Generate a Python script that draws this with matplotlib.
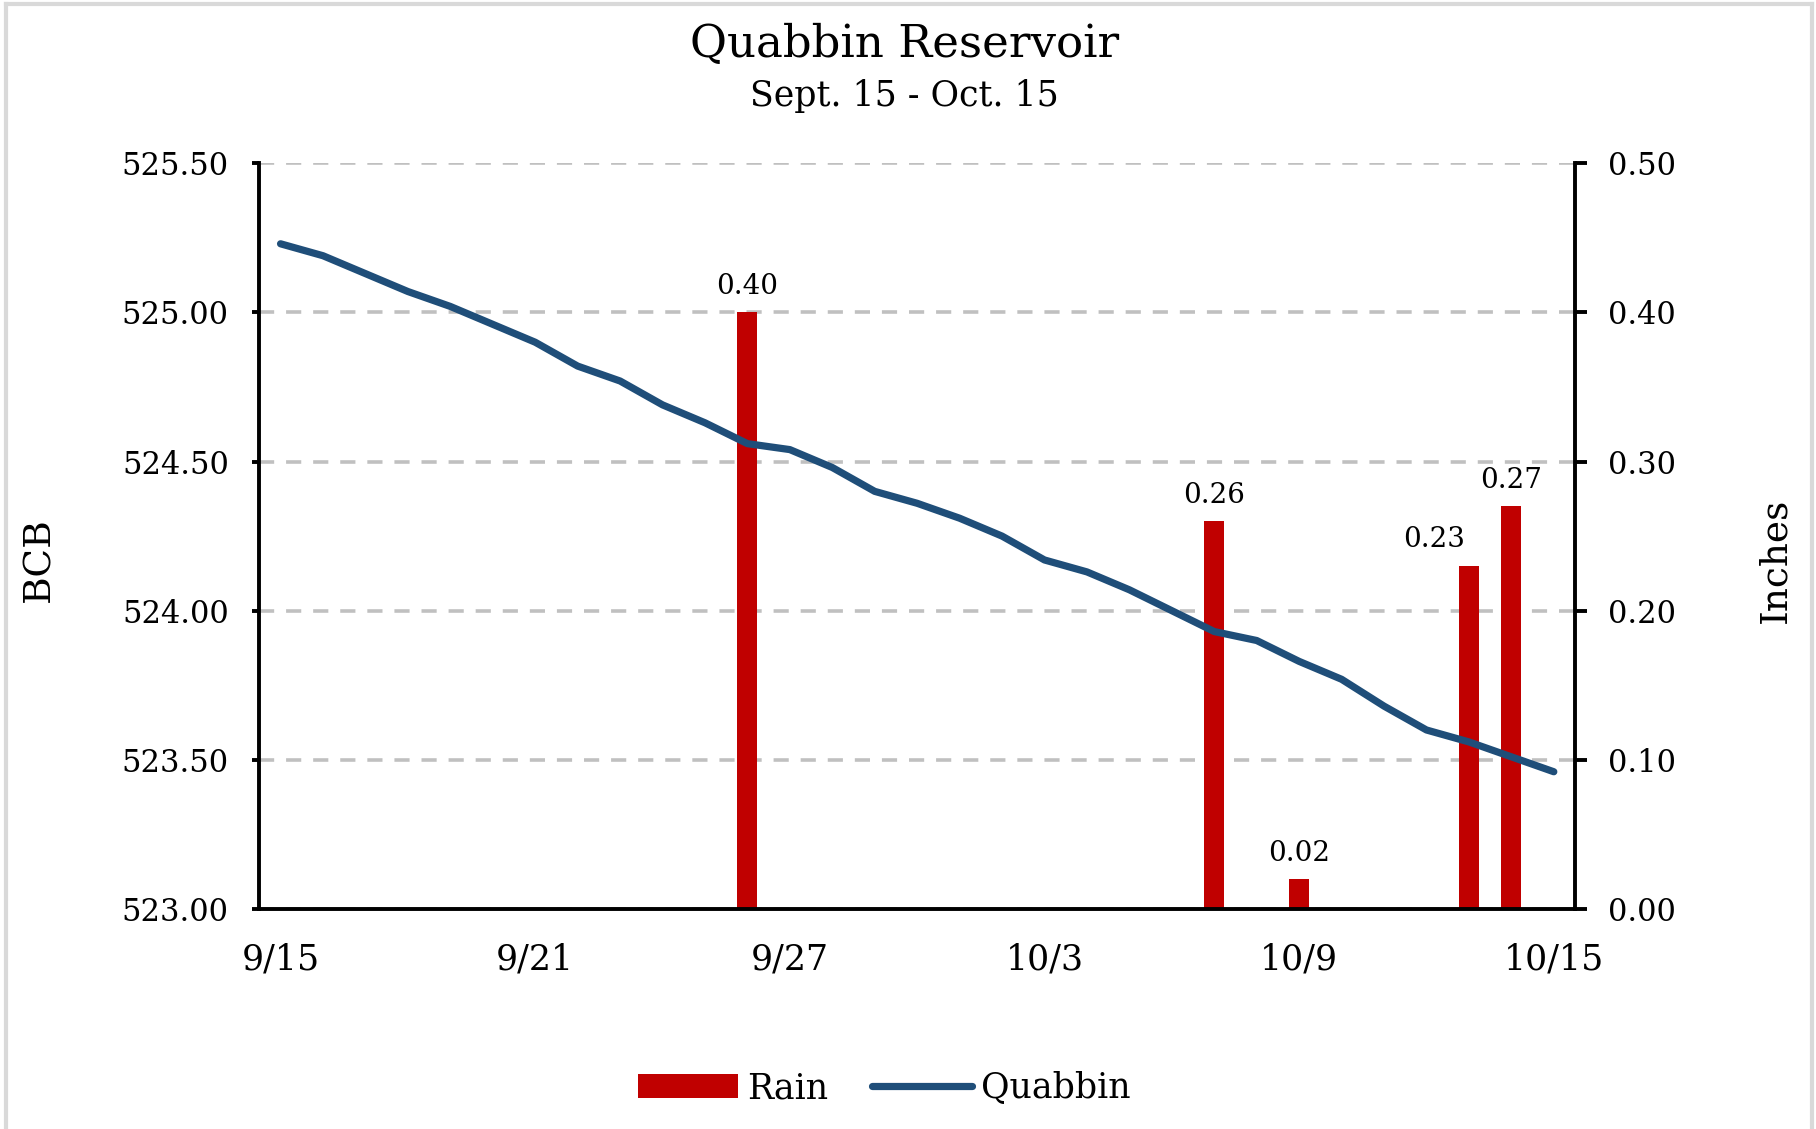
import matplotlib.pyplot as plt
from matplotlib.lines import Line2D

plt.rcParams['font.family'] = ['DejaVu Serif']

# Data: one value per day, 9/15 .. 10/15
days = list(range(31))
tick_days = [0, 6, 12, 18, 24, 30]
tick_labels = ['9/15', '9/21', '9/27', '10/3', '10/9', '10/15']

# reservoir level (BCB)
level = [525.23, 525.19, 525.13, 525.07, 525.02, 524.96, 524.90, 524.82,
         524.77, 524.69, 524.63, 524.56, 524.54, 524.48, 524.40, 524.36,
         524.31, 524.25, 524.17, 524.13, 524.07, 524.00, 523.93, 523.90,
         523.83, 523.77, 523.68, 523.60, 523.56, 523.51, 523.46]

# daily rain (inches)
rain = [0, 0, 0, 0, 0, 0, 0, 0, 0, 0, 0, 0.40, 0, 0, 0, 0,
        0, 0, 0, 0, 0, 0, 0.26, 0, 0.02, 0, 0, 0, 0.23, 0.27, 0]

fig = plt.figure(figsize=(18.16, 11.29), dpi=100)
ax = fig.add_axes([0.1428, 0.1949, 0.7245, 0.6605])
axr = ax.twinx()

# ----- rain bars (right axis) -----
bars = axr.bar(days, rain, width=0.47, color='#c00000', zorder=2)
texts = axr.bar_label(bars, labels=[f'{v:.2f}' if v > 0 else '' for v in rain],
                      padding=9, fontsize=20)
# the 0.23 label sits a bit to the left so it clears the next bar
texts[28].xyann = (-25, 9)
axr.set_ylim(0, 0.5)
axr.set_yticks([0, 0.1, 0.2, 0.3, 0.4, 0.5])
axr.set_yticklabels([f'{v:.2f}' for v in [0, 0.1, 0.2, 0.3, 0.4, 0.5]])
axr.yaxis.grid(True, color='#c0c0c0', linestyle=(0, (4.2, 3.3)), linewidth=2.6)
axr.set_axisbelow(True)

# ----- level line (left axis) -----
line, = ax.plot(days, level, color='#1f4e79', lw=5.2,
                solid_capstyle='round', solid_joinstyle='round')
ax.set_ylim(523, 525.5)
yt = [523.0, 523.5, 524.0, 524.5, 525.0, 525.5]
ax.set_yticks(yt)
ax.set_yticklabels([f'{v:.2f}' for v in yt])
ax.set_xlim(-0.5, 30.5)
ax.set_xticks(tick_days)
ax.set_xticklabels(tick_labels)
ax.set_zorder(axr.get_zorder() + 1)
ax.patch.set_visible(False)

for s in ['top', 'right']:
    ax.spines[s].set_visible(False)
for s in ['top', 'left', 'bottom']:
    axr.spines[s].set_visible(False)
for s in ['left', 'bottom']:
    ax.spines[s].set_linewidth(2.8)
axr.spines['right'].set_linewidth(2.8)

ax.tick_params(axis='x', length=0, pad=24, labelsize=25)
ax.tick_params(axis='y', direction='out', length=5, width=2.8, pad=17, labelsize=22)
axr.tick_params(axis='y', direction='out', length=8.5, width=2.8, pad=15, labelsize=22)

# titles and axis labels
fig.text(0.498, 1 - 57 / 1129, 'Quabbin Reservoir', ha='center', va='baseline', fontsize=32.5)
fig.text(0.498, 1 - 106 / 1129, 'Sept. 15 - Oct. 15', ha='center', va='baseline', fontsize=25)
fig.text(39 / 1816, 1 - 560 / 1129, 'BCB', rotation=90, ha='center', va='center', fontsize=27)
fig.text(1775 / 1816, 1 - 560 / 1129, 'Inches', rotation=90, ha='center', va='center', fontsize=27)

fig.legend([bars, line], ['Rain', 'Quabbin'], loc='center', bbox_to_anchor=(0.487, 0.036),
           ncol=2, frameon=False, fontsize=25, handlelength=2.9, handleheight=0.67,
           handletextpad=0.26, columnspacing=1.24)

# light grey frame around the chart (left, top, right)
for xs, ys in [([0.0033, 0.0033], [0, 0.9965]), ([0.0033, 0.9978], [0.9965, 0.9965]),
               ([0.9978, 0.9978], [0, 0.9965])]:
    fig.add_artist(Line2D(xs, ys, transform=fig.transFigure, color='#d9d9d9', lw=3))

fig.savefig('out.png', dpi=100)
